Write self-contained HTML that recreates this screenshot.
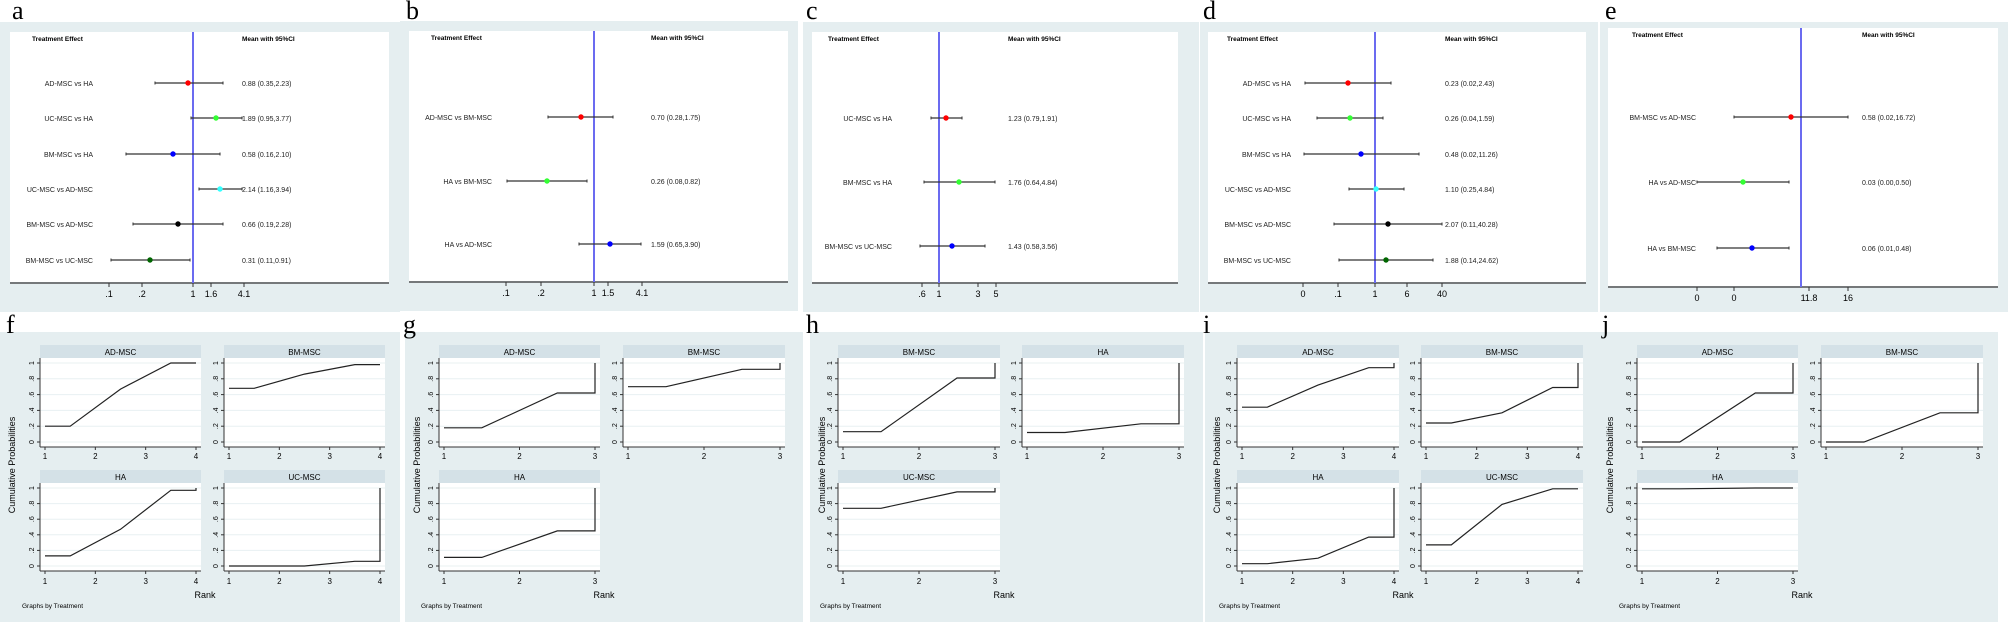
<!DOCTYPE html>
<html><head><meta charset="utf-8"><style>
html,body{margin:0;padding:0;background:#fff;}
svg{display:block;font-family:"Liberation Sans",Arial,sans-serif;}
</style></head><body>
<svg id="s" width="2008" height="622" viewBox="0 0 2008 622" xmlns="http://www.w3.org/2000/svg"></svg>
<script>
const S=document.getElementById('s');let h='';
const BG='#e5eef0';
// Forest panels
const F=[
 {L:'a',lx:12,bg:[0,22,400,290],w:[10,32,379,250],ax:283,blue:193,te:32,mn:242,le:93,
  ticks:[['.1',109],['.2',142],['1',193],['1.6',211],['4.1',244]],
  rows:[[83,'AD-MSC vs HA','0.88 (0.35,2.23)',155,223,188,'#f00'],[118,'UC-MSC vs HA','1.89 (0.95,3.77)',191,242,216,'#3f3'],[154,'BM-MSC vs HA','0.58 (0.16,2.10)',126,220,173,'#00f'],[189,'UC-MSC vs AD-MSC','2.14 (1.16,3.94)',199,242,220,'#3ff'],[224,'BM-MSC vs AD-MSC','0.66 (0.19,2.28)',133,223,178,'#000'],[260,'BM-MSC vs UC-MSC','0.31 (0.11,0.91)',111,190,150,'#060']]},
 {L:'b',lx:406,bg:[400,21,398,290],w:[409,31,379,250],ax:282,blue:594,te:431,mn:651,le:492,
  ticks:[['.1',506],['.2',541],['1',594],['1.5',608],['4.1',642]],
  rows:[[117,'AD-MSC vs BM-MSC','0.70 (0.28,1.75)',548,613,581,'#f00'],[181,'HA vs BM-MSC','0.26 (0.08,0.82)',507,587,547,'#3f3'],[244,'HA vs AD-MSC','1.59 (0.65,3.90)',579,641,610,'#00f']]},
 {L:'c',lx:806,bg:[803,22,396,290],w:[812,32,366,250],ax:283,blue:939,te:828,mn:1008,le:892,
  ticks:[['.6',922],['1',939],['3',978],['5',996]],
  rows:[[118,'UC-MSC vs HA','1.23 (0.79,1.91)',931,962,946,'#f00'],[182,'BM-MSC vs HA','1.76 (0.64,4.84)',924,995,959,'#3f3'],[246,'BM-MSC vs UC-MSC','1.43 (0.58,3.56)',920,985,952,'#00f']]},
 {L:'d',lx:1203,bg:[1200,22,398,290],w:[1208,32,378,250],ax:283,blue:1375,te:1227,mn:1445,le:1291,
  ticks:[['0',1303],['.1',1338],['1',1375],['6',1407],['40',1442]],
  rows:[[83,'AD-MSC vs HA','0.23 (0.02,2.43)',1305,1391,1348,'#f00'],[118,'UC-MSC vs HA','0.26 (0.04,1.59)',1317,1383,1350,'#3f3'],[154,'BM-MSC vs HA','0.48 (0.02,11.26)',1304,1419,1361,'#00f'],[189,'UC-MSC vs AD-MSC','1.10 (0.25,4.84)',1349,1404,1376,'#3ff'],[224,'BM-MSC vs AD-MSC','2.07 (0.11,40.28)',1334,1442,1388,'#000'],[260,'BM-MSC vs UC-MSC','1.88 (0.14,24.62)',1339,1433,1386,'#060']]},
 {L:'e',lx:1605,bg:[1600,22,408,290],w:[1608,28,390,258],ax:287,blue:1801,te:1632,mn:1862,le:1696,
  ticks:[['0',1697],['0',1734],['11.8',1809],['16',1848]],
  rows:[[117,'BM-MSC vs AD-MSC','0.58 (0.02,16.72)',1734,1848,1791,'#f00'],[182,'HA vs AD-MSC','0.03 (0.00,0.50)',1697,1789,1743,'#3f3'],[248,'HA vs BM-MSC','0.06 (0.01,0.48)',1717,1789,1752,'#00f']]}
];
for(const p of F){
 h+=`<rect x="${p.bg[0]}" y="${p.bg[1]}" width="${p.bg[2]}" height="${p.bg[3]}" fill="${BG}"/>`;
 h+=`<rect x="${p.w[0]}" y="${p.w[1]}" width="${p.w[2]}" height="${p.w[3]}" fill="#fff"/>`;
 h+=`<text x="${p.lx}" y="19" font-family="Liberation Serif,serif" font-size="26">${p.L}</text>`;
 h+=`<line x1="${p.w[0]}" x2="${p.w[0]+p.w[2]}" y1="${p.ax}" y2="${p.ax}" stroke="#333" stroke-width="1.2"/>`;
 h+=`<line x1="${p.blue}" x2="${p.blue}" y1="${p.w[1]}" y2="${p.ax}" stroke="#6b6bf0" stroke-width="2"/>`;
 h+=`<text x="${p.te}" y="${p.w[1]+9}" font-size="6.5" font-weight="bold">Treatment Effect</text>`;
 h+=`<text x="${p.mn}" y="${p.w[1]+9}" font-size="6.5" font-weight="bold">Mean with 95%CI</text>`;
 for(const t of p.ticks){h+=`<line x1="${t[1]}" x2="${t[1]}" y1="${p.ax}" y2="${p.ax+4}" stroke="#333"/><text x="${t[1]}" y="${p.ax+14}" font-size="9" text-anchor="middle">${t[0]}</text>`;}
 for(const r of p.rows){
  h+=`<text x="${p.le}" y="${r[0]+3}" font-size="7" text-anchor="end" fill="#222">${r[1]}</text>`;
  h+=`<text x="${p.mn}" y="${r[0]+3}" font-size="7" fill="#222">${r[2]}</text>`;
  h+=`<line x1="${r[3]}" x2="${r[4]}" y1="${r[0]}" y2="${r[0]}" stroke="#333" stroke-width="1.2"/>`;
  h+=`<line x1="${r[3]}" x2="${r[3]}" y1="${r[0]-1.5}" y2="${r[0]+1.5}" stroke="#333"/><line x1="${r[4]}" x2="${r[4]}" y1="${r[0]-1.5}" y2="${r[0]+1.5}" stroke="#333"/>`;
  h+=`<circle cx="${r[5]}" cy="${r[0]}" r="2.7" fill="${r[6]}"/>`;
 }
}
// Rank panels
const G=[
 {L:'f',lx:6,px:0,w:400,c:[40,201,224,385],n:4,subs:[['AD-MSC',[.2,.2,.67,1,1]],['BM-MSC',[.68,.68,.86,.98,.98]],['HA',[.13,.13,.47,.97,.97,1]],['UC-MSC',[0,0,0,.06,.06,1]]]},
 {L:'g',lx:403,px:405,w:398,c:[34,195,218,380],n:3,subs:[['AD-MSC',[.18,.18,.62,.62,1]],['BM-MSC',[.7,.7,.92,.92,1]],['HA',[.11,.11,.45,.45,1]]]},
 {L:'h',lx:806,px:810,w:393,c:[28,190,212,374],n:3,subs:[['BM-MSC',[.13,.13,.81,.81,1]],['HA',[.12,.12,.23,.23,1]],['UC-MSC',[.74,.74,.95,.95,1]]]},
 {L:'i',lx:1203,px:1205,w:393,c:[32,194,216,378],n:4,subs:[['AD-MSC',[.44,.44,.72,.94,.94,1]],['BM-MSC',[.24,.24,.37,.69,.69,1]],['HA',[.03,.03,.1,.37,.37,1]],['UC-MSC',[.27,.27,.79,.99,.99]]]},
 {L:'j',lx:1602,px:1598,w:400,c:[39,200,223,385],n:3,subs:[['AD-MSC',[0,0,.62,.62,1]],['BM-MSC',[0,0,.37,.37,1]],['HA',[.99,.99,1,1,1]]]}
];
for(const p of G){
 const X=p.px;
 h+=`<rect x="${X}" y="332" width="${p.w}" height="290" fill="${BG}"/>`;
 h+=`<text x="${p.lx}" y="333" font-family="Liberation Serif,serif" font-size="26">${p.L}</text>`;
 const rowsY=[[345,358,363,442,447,459],[470,483,488,566,571,584]];
 p.subs.forEach((s,i)=>{
  const col=i%2,row=Math.floor(i/2);
  const l=X+p.c[col*2],r=X+p.c[col*2+1];const R=rowsY[row];
  h+=`<rect x="${l}" y="${R[0]}" width="${r-l}" height="${R[1]-R[0]}" fill="#d4e1e7"/>`;
  h+=`<text x="${(l+r)/2}" y="${R[0]+10}" font-size="8" text-anchor="middle">${s[0]}</text>`;
  h+=`<rect x="${l}" y="${R[1]}" width="${r-l}" height="${R[4]-R[1]}" fill="#fff"/>`;
  const y=v=>R[3]-(R[3]-R[2])*v;
  for(let k=0;k<=5;k++){const yy=y(k*.2);h+=`<line x1="${l}" x2="${r}" y1="${yy}" y2="${yy}" stroke="#e8f0f2" stroke-width="1"/>`;
   h+=`<line x1="${l-3}" x2="${l}" y1="${yy}" y2="${yy}" stroke="#333"/>`;
   h+=`<text transform="translate(${l-6},${yy}) rotate(-90)" font-size="7" text-anchor="middle">${['0','.2','.4','.6','.8','1'][k]}</text>`;}
  h+=`<line x1="${l}" x2="${l}" y1="${R[1]}" y2="${R[4]}" stroke="#333"/><line x1="${l}" x2="${r}" y1="${R[4]}" y2="${R[4]}" stroke="#333"/>`;
  const x0=l+5,x1=r-5,xs=v=>x0+(x1-x0)*(v-1)/(p.n-1);
  for(let k=1;k<=p.n;k++){h+=`<line x1="${xs(k)}" x2="${xs(k)}" y1="${R[4]}" y2="${R[4]+3}" stroke="#333"/><text x="${xs(k)}" y="${R[5]}" font-size="8" text-anchor="middle">${k}</text>`;}
  const xsP=p.n==4?[1,1.5,2.5,3.5,4,4]:[1,1.5,2.5,3,3];
  const pts=s[1].map((v,k)=>xs(xsP[k]).toFixed(1)+','+y(v).toFixed(1)).join(' ');
  h+=`<polyline points="${pts}" fill="none" stroke="#222" stroke-width="1.2"/>`;
 });
 h+=`<text transform="translate(${X+15},465) rotate(-90)" font-size="9" text-anchor="middle">Cumulative Probabilities</text>`;
 h+=`<text x="${X+p.c[1]+4}" y="598" font-size="9" text-anchor="middle">Rank</text>`;
 h+=`<text x="${X+p.c[0]-18}" y="608" font-size="6.5">Graphs by Treatment</text>`;
}
S.innerHTML=h;
</script>
</body></html>
